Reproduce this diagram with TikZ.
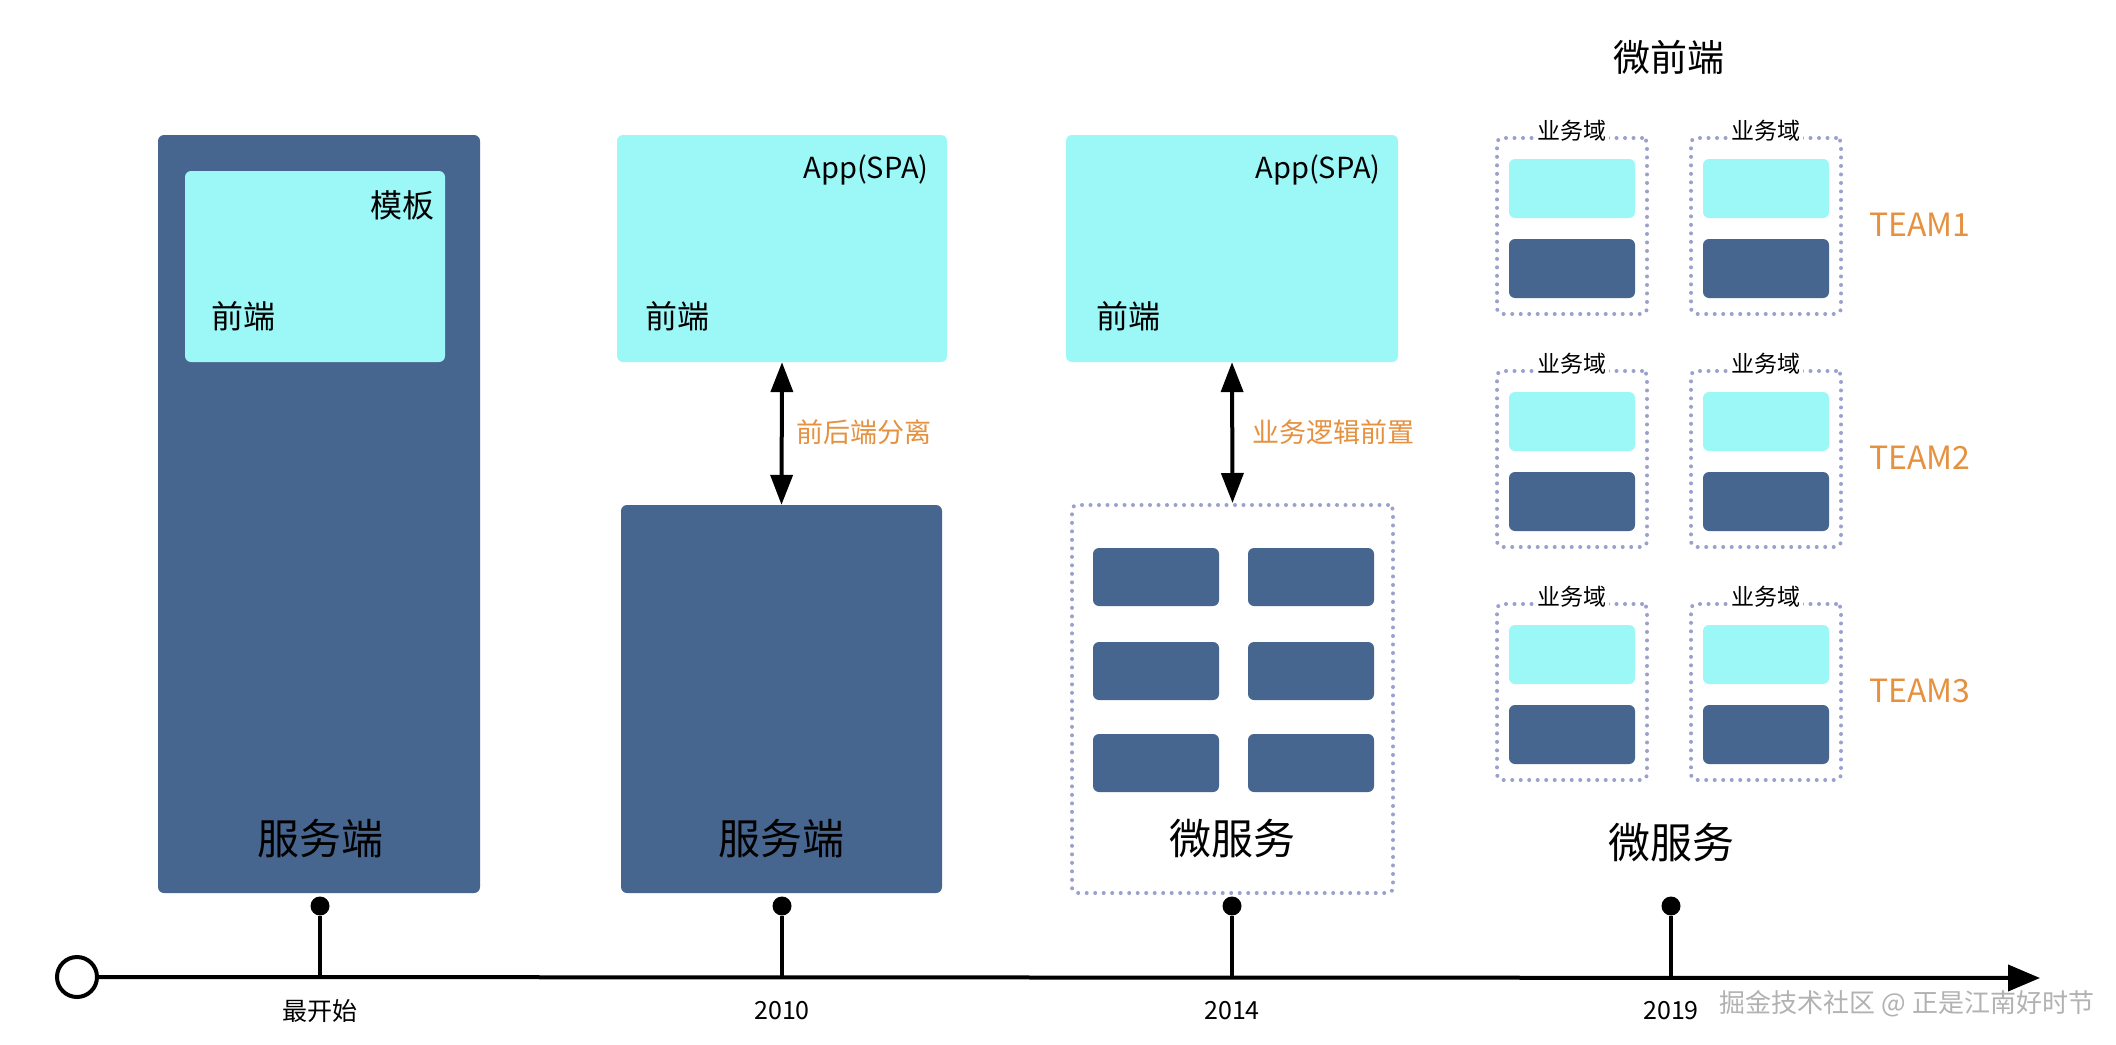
\documentclass[tikz,border=0pt]{standalone}
\usepackage{fontspec}
\setmainfont{Noto Sans CJK SC}
\usetikzlibrary{arrows.meta, positioning, fit}
\definecolor{srvblue}{HTML}{47668F}
\definecolor{feCyan}{HTML}{9CF7F7}
\definecolor{tagorange}{HTML}{E5913F}
\definecolor{dotblue}{HTML}{9AA1CC}
\tikzset{server/.style={rectangle,fill=srvblue,rounded corners=6pt,inner sep=0pt},client/.style={rectangle,fill=feCyan,rounded corners=6pt,inner sep=0pt},dotbox/.style={rectangle,draw=dotblue,line width=4pt,line cap=round,dash pattern=on 0pt off 8.5pt,rounded corners=5pt,inner sep=0pt},line/.style={{Triangle[length=30pt,width=22pt]}-{Triangle[length=30pt,width=22pt]},line width=4pt},axis/.style={-{Triangle[length=32pt,width=26pt]},line width=4pt},dot/.style={circle,fill=black,minimum size=19pt,inner sep=0pt},big/.style={font=\fontsize{42}{46}\selectfont,inner sep=0pt},mid/.style={font=\fontsize{32}{36}\selectfont,inner sep=0pt},tag/.style={font=\fontsize{27}{30}\selectfont,text=tagorange,inner sep=0pt},year/.style={font=\fontsize{25}{28}\selectfont,inner sep=0pt}}

\begin{document}
\begin{tikzpicture}[x=1pt,y=-1pt]
\useasboundingbox[fill=white] (0,0) rectangle (2116,1044);
% stage 1: server renders templates
\node[server, fit={(158,135) (480,893)}] (srv1) {};
\node[client, fit={(185,171) (445,362)}] (tpl1) {};
\node[mid] (tplname) at (402,205) {模板};
\node[mid] (fe1) at (243,316) {前端};
\node[big, text=black] (srvname1) at (320,839) {服务端};
% stage 2: split front and back
\node[client, fit={(617,135) (947,362)}] (app2) {};
\node[font=\fontsize{29}{32}\selectfont, inner sep=0pt] (spa2) at (866,170) {App(SPA)};
\node[mid] (fe2) at (677,316) {前端};
\node[server, fit={(621,505) (942,893)}] (srv2) {};
\node[big] (srvname2) at (781,839) {服务端};
\draw[line] (app2.south) -- (srv2.north);
\node[tag] (split) at (864,432) {前后端分离};
% stage 3: micro services
\node[client, fit={(1066,135) (1398,362)}] (app3) {};
\node[font=\fontsize{29}{32}\selectfont, inner sep=0pt] (spa3) at (1318,170) {App(SPA)};
\node[mid] (fe3) at (1128,316) {前端};
\node[dotbox, fit={(1072,505) (1393,893)}] (ms3) {};
\foreach \r/\y in {1/548,2/642,3/734} {
  \foreach \c/\x in {1/1093,2/1248} {
    \node[server, fit={(\x,\y) (\x+126,\y+58)}] (svc-\r-\c) {};
  }
}
\node[big] (msname3) at (1232,839) {微服务};
\draw[line] (app3.south) -- (ms3.north);
\node[tag] (biz) at (1333,432) {业务逻辑前置};
% stage 4: micro frontends
\node[font=\fontsize{37}{40}\selectfont, inner sep=0pt] (mfe) at (1669,57) {微前端};
\foreach \r/\t in {0/1,1/2,2/3} {
  \pgfmathsetmacro\yt{159+233*\r}
  \foreach \c/\x in {1/1509,2/1703} {
    \node[dotbox, fit={(\x-12,\yt-21) (\x+138,\yt+155)}] (dom-\t-\c) {};
    \node[font=\fontsize{23}{26}\selectfont, fill=white, inner sep=2pt] (domname-\t-\c) at (\x+63,\yt-28) {业务域};
    \node[client, fit={(\x,\yt) (\x+126,\yt+59)}] (dfe-\t-\c) {};
    \node[server, fit={(\x,\yt+80) (\x+126,\yt+139)}] (dbe-\t-\c) {};
  }
  \node[font=\fontsize{32}{36}\selectfont, text=tagorange, inner sep=0pt] (team\t) at (1920,\yt+66) {TEAM\t};
}
\node[big] (msname4) at (1671,843) {微服务};
% timeline
\node[circle, draw, line width=4pt, minimum size=40pt, inner sep=0pt] (start) at (77,977) {};
\coordinate (end) at (2040,978);
\draw[axis] (start) -- (end);
\foreach \i/\x/\txt in {1/320/最开始,2/782/2010,3/1232/2014,4/1671/2019} {
  \node[dot] (dot\i) at (\x,906) {};
  \coordinate (tick\i) at (\x,978);
  \draw[line width=4pt] (dot\i) -- (tick\i);
  \node[year] (when\i) at (\x,1011) {\txt};
}
\node[font=\fontsize{26}{30}\selectfont, text=gray!60, inner sep=0pt] (mark) at (1907,1004) {掘金技术社区 @ 正是江南好时节};
\end{tikzpicture}
\end{document}
